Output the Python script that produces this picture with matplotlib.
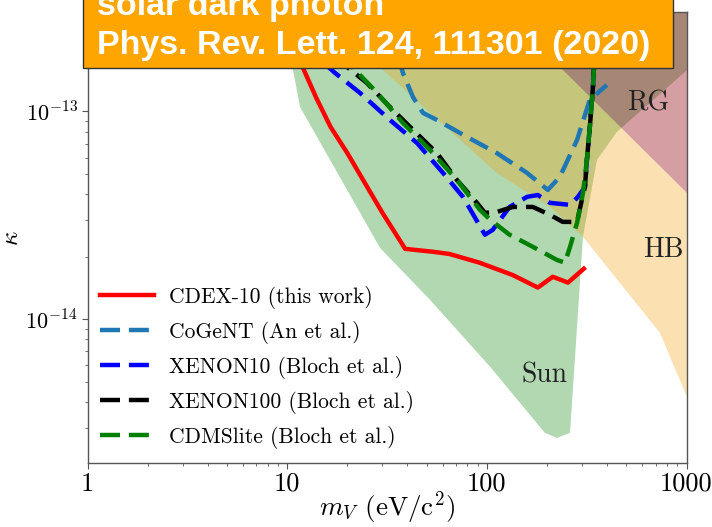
import matplotlib
matplotlib.use("Agg")
import matplotlib.pyplot as plt
from matplotlib.patches import Polygon, Rectangle
from matplotlib.ticker import FixedLocator, FixedFormatter, LogLocator, NullFormatter

plt.rcParams["font.family"] = ["cmr10", "DejaVu Serif"]
plt.rcParams["mathtext.fontset"] = "cm"
plt.rcParams["axes.formatter.use_mathtext"] = True

# ---- exclusion limits: dark photon mass m_V [eV] vs kinetic mixing kappa ----
cdex_m = [10, 12, 14, 16.5, 20, 24, 30, 39, 54, 65, 92, 135, 180, 214, 255, 306]
cdex_k = [2.26e-13, 1.62e-13, 1.16e-13, 8.42e-14, 6.31e-14, 4.68e-14, 3.25e-14,
          2.18e-14, 2.11e-14, 2.06e-14, 1.87e-14, 1.63e-14, 1.42e-14, 1.60e-14,
          1.50e-14, 1.75e-14]

cogent_m = [33, 38, 42.7, 47.9, 56.2, 79.5, 112, 159, 202, 232, 283, 328, 399]
cogent_k = [2.5e-13, 1.53e-13, 1.17e-13, 9.84e-14, 9.10e-14, 7.54e-14, 6.31e-14,
            5.06e-14, 4.19e-14, 4.84e-14, 7.29e-14, 1.14e-13, 1.34e-13]

xe10_m = [12, 17.4, 23.1, 32.7, 44.7, 60.3, 75.9, 97.8, 107, 130, 159, 180, 207,
          261, 286, 310, 317, 328, 340, 368]
xe10_k = [2.1e-13, 1.53e-13, 1.23e-13, 9.1e-14, 7.05e-14, 5.06e-14, 3.88e-14,
          2.55e-14, 2.69e-14, 3.47e-14, 3.88e-14, 3.96e-14, 3.63e-14, 3.55e-14,
          3.88e-14, 4.33e-14, 5.84e-14, 8.42e-14, 1.31e-13, 5.7e-13]

xe100_m = [13, 19.9, 25.1, 32.7, 42.7, 56.2, 70.8, 89.2, 97.8, 112, 135, 170, 207,
           240, 283, 299, 310, 317, 328, 340, 368]
xe100_k = [2.2e-13, 1.64e-13, 1.37e-13, 1.05e-13, 8.15e-14, 6.31e-14, 4.68e-14,
           3.63e-14, 3.25e-14, 3.28e-14, 3.47e-14, 3.47e-14, 3.18e-14, 2.94e-14,
           2.94e-14, 3.75e-14, 4.33e-14, 5.84e-14, 8.42e-14, 1.31e-13, 5.7e-13]

cdms_m = [14, 21.4, 28.2, 38.0, 51.9, 70.8, 92.4, 104, 130, 170, 224, 246, 261, 283,
          303, 317, 328, 340, 368]
cdms_k = [2.3e-13, 1.62e-13, 1.23e-13, 8.8e-14, 6.53e-14, 4.68e-14, 3.36e-14,
          3.01e-14, 2.55e-14, 2.23e-14, 1.93e-14, 1.87e-14, 2.23e-14, 2.91e-14,
          4.05e-14, 5.84e-14, 8.42e-14, 1.31e-13, 5.7e-13]

# ---- astrophysical bounds (excluded regions) ----
sun_m = [8.79, 10.7, 11.6, 29.2, 51.9, 104, 195, 224, 261, 303, 356, 448, 1005, 1128, 1128]
sun_k = [4.3e-13, 1.58e-13, 1.05e-13, 2.2e-14, 1.24e-14, 5.89e-15, 2.84e-15, 2.68e-15,
         2.84e-15, 2.49e-14, 5.84e-14, 7.97e-14, 1.58e-13, 1.65e-13, 4.3e-13]

hb_m = [8.49, 30.2, 112, 207, 303, 736, 1005, 1128, 1128, 84.2]
hb_k = [4.3e-13, 1.58e-13, 5.06e-14, 3.47e-14, 2.49e-14, 8.59e-15, 4.23e-15, 3.24e-15,
        3.63e-14, 4.3e-13]

rg_m = [84.2, 1128, 1128]
rg_k = [4.3e-13, 3.63e-14, 4.3e-13]

fig = plt.figure(figsize=(7.12, 5.27), dpi=100)
ax = fig.add_axes([0.1229, 0.1205, 0.8413, 0.8567])
ax.set_xscale("log")
ax.set_yscale("log")
ax.set_xlim(1, 1000)
ax.set_ylim(2.02e-15, 3.01e-13)

ax.add_patch(Polygon(list(zip(sun_m, sun_k)), closed=True, facecolor=(0.0, 0.5, 0.0),
                     alpha=0.3, edgecolor="none", zorder=1))
ax.add_patch(Polygon(list(zip(hb_m, hb_k)), closed=True, facecolor=(0.95, 0.61, 0.0),
                     alpha=0.3, edgecolor="none", zorder=1))
ax.add_patch(Polygon(list(zip(rg_m, rg_k)), closed=True, facecolor=(0.59, 0.05, 0.10),
                     alpha=0.4, edgecolor="none", zorder=1))

ax.text(641, 1.10e-13, "RG", fontsize=20, ha="center", va="center", color="#222222")
ax.text(762, 2.15e-14, "HB", fontsize=20, ha="center", va="center", color="#222222")
ax.text(195, 5.35e-15, "Sun", fontsize=20, ha="center", va="center", color="#222222")

lw = 3.2
dash = (0, (4.5, 2.0))
ax.plot(cdex_m, cdex_k, color="#ff0000", lw=lw, label="CDEX-10 (this work)", zorder=5)
ax.plot(cogent_m, cogent_k, color="#1f77b4", lw=lw, ls=dash, label="CoGeNT (An et al.)", zorder=4)
ax.plot(xe10_m, xe10_k, color="#0000ff", lw=lw, ls=dash, label="XENON10 (Bloch et al.)", zorder=4)
ax.plot(xe100_m, xe100_k, color="#000000", lw=lw, ls=dash, label="XENON100 (Bloch et al.)", zorder=4)
ax.plot(cdms_m, cdms_k, color="#008000", lw=lw, ls=dash, label="CDMSlite (Bloch et al.)", zorder=4)

# axes styling
for sp in ax.spines.values():
    sp.set_color("#555555")
    sp.set_linewidth(1.0)
ax.tick_params(which="major", direction="out", length=4, width=0.8, color="#555555", pad=3)
ax.tick_params(which="minor", direction="out", length=2.5, width=0.6, color="#555555")
ax.tick_params(axis="x", which="major", labelsize=19, pad=2)
ax.tick_params(axis="y", which="major", labelsize=16)

ax.xaxis.set_major_locator(FixedLocator([1, 10, 100, 1000]))
ax.xaxis.set_major_formatter(FixedFormatter(["1", "10", "100", "1000"]))
ax.xaxis.set_minor_locator(LogLocator(base=10, subs=range(2, 10)))
ax.xaxis.set_minor_formatter(NullFormatter())
ax.yaxis.set_major_locator(FixedLocator([1e-14, 1e-13]))
ax.yaxis.set_major_formatter(FixedFormatter([r"$10^{-14}$", r"$10^{-13}$"]))
ax.yaxis.set_minor_locator(LogLocator(base=10, subs=range(2, 10)))
ax.yaxis.set_minor_formatter(NullFormatter())

ax.set_xlabel(r"$m_V$ (eV/c$^2$)", fontsize=19.5)
ax.xaxis.set_label_coords(0.5, -0.058)
ax.set_ylabel(r"$\kappa$", fontsize=18)
ax.yaxis.set_label_coords(-0.107, 0.5)

leg = ax.legend(loc="upper left", bbox_to_anchor=(0.1404, 0.458), bbox_transform=fig.transFigure,
                frameon=False, fontsize=15.5, handlelength=2.5, handletextpad=0.7,
                labelspacing=0.56, borderpad=0, borderaxespad=0)

# publication banner
fig.patches.append(Rectangle((83 / 712, 1 - 68 / 527), 590 / 712, 0.2,
                             transform=fig.transFigure, facecolor="#ffa500",
                             edgecolor="#333333", lw=1.0, zorder=10))
fig.text(97 / 712, 1 - 15 / 527, "solar dark photon", fontsize=24.5, fontweight="bold",
         color="white", family="Liberation Sans", va="baseline", zorder=11)
fig.text(97 / 712, 1 - 54 / 527, "Phys. Rev. Lett. 124, 111301 (2020)", fontsize=24.5,
         fontweight="bold", color="white", family="Liberation Sans", va="baseline", zorder=11)

fig.savefig("out.png", dpi=100)
